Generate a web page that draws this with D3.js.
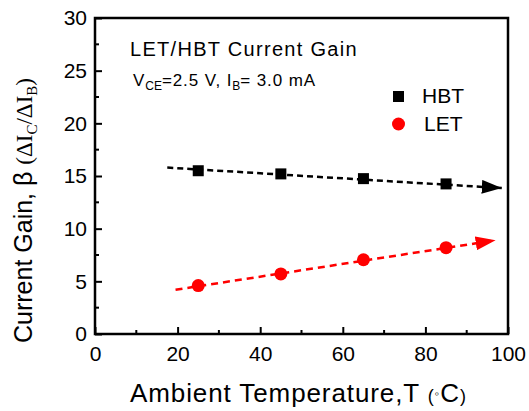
<!DOCTYPE html>
<html>
<head>
<meta charset="utf-8">
<script src="https://cdn.jsdelivr.net/npm/d3@7"></script>
<style>
	body { margin: 0; background: #fff; }
	svg text { font-family: Arial, "Liberation Sans", sans-serif; fill: #000; }
</style>
</head>
<body>
<svg id="chart" width="529" height="411"></svg>
<script>
// temperatures (°C) and measured gains
var temps = [25, 45, 65, 85];
var hbtGain = [15.5, 15.2, 14.75, 14.25];
var letGain = [4.6, 5.7, 7.05, 8.2];

// dashed trend lines with arrows (start / end in data units)
var hbtFitX = [17.5, 98.5];
var hbtFitY = [15.8, 13.85];
var letFitX = [19.5, 97];
var letFitY = [4.2, 8.9];

var xTicks = [0, 20, 40, 60, 80, 100];
var yTicks = [0, 5, 10, 15, 20, 25, 30];

var svg = d3.select('#chart');

var x = d3.scaleLinear().domain([0, 100]).range([95, 508]);
var y = d3.scaleLinear().domain([0, 30]).range([334, 18]);

// arrow heads
var defs = svg.append('defs');
[['arrowBlack', '#000'], ['arrowRed', '#ff0000']].forEach(function(a) {
	defs.append('marker')
		.attr('id', a[0])
		.attr('viewBox', '0 0 20 14')
		.attr('refX', 20)
		.attr('refY', 7)
		.attr('markerWidth', 20)
		.attr('markerHeight', 14)
		.attr('markerUnits', 'userSpaceOnUse')
		.attr('orient', 'auto')
	  .append('path')
		.attr('d', 'M0,0 L20,7 L0,14 Z')
		.attr('fill', a[1]);
});

// axes, ticks inside
var xAxis = d3.axisBottom(x).tickValues(xTicks).tickSize(-7).tickPadding(12).tickFormat(d3.format('d'));
var yAxis = d3.axisLeft(y).tickValues(yTicks).tickSize(-7).tickPadding(8).tickFormat(d3.format('d'));

var gx = svg.append('g').attr('transform', 'translate(0,' + y(0) + ')').call(xAxis);
var gy = svg.append('g').attr('transform', 'translate(' + x(0) + ',0)').call(yAxis);

[gx, gy].forEach(function(g) {
	g.select('.domain').remove();
	g.selectAll('.tick line').attr('stroke', '#000').attr('stroke-width', 2);
	g.selectAll('.tick text').style('font-size', '21px').attr('fill', '#000');
});

// minor ticks
svg.append('g').selectAll('line')
	.data(d3.range(10, 100, 20))
	.enter().append('line')
	.attr('x1', function(d) { return x(d); })
	.attr('x2', function(d) { return x(d); })
	.attr('y1', y(0))
	.attr('y2', y(0) - 4)
	.attr('stroke', '#000').attr('stroke-width', 2);

svg.append('g').selectAll('line')
	.data(d3.range(2.5, 30, 5))
	.enter().append('line')
	.attr('y1', function(d) { return y(d); })
	.attr('y2', function(d) { return y(d); })
	.attr('x1', x(0))
	.attr('x2', x(0) + 4)
	.attr('stroke', '#000').attr('stroke-width', 2);

// frame
svg.append('rect')
	.attr('x', x(0)).attr('y', y(30))
	.attr('width', x(100) - x(0)).attr('height', y(0) - y(30))
	.attr('fill', 'none').attr('stroke', '#000').attr('stroke-width', 2.5);

// trend lines
var line = d3.line().x(function(d) { return x(d[0]); }).y(function(d) { return y(d[1]); });

svg.append('path')
	.attr('d', line(d3.zip(hbtFitX, hbtFitY)))
	.attr('fill', 'none').attr('stroke', '#000').attr('stroke-width', 2.5)
	.attr('stroke-dasharray', '6,4')
	.attr('marker-end', 'url(#arrowBlack)');

svg.append('path')
	.attr('d', line(d3.zip(letFitX, letFitY)))
	.attr('fill', 'none').attr('stroke', '#ff0000').attr('stroke-width', 2.5)
	.attr('stroke-dasharray', '7,5')
	.attr('marker-end', 'url(#arrowRed)');

// markers
svg.append('g').selectAll('rect')
	.data(d3.zip(temps, hbtGain))
	.enter().append('rect')
	.attr('x', function(d) { return x(d[0]) - 5.5; })
	.attr('y', function(d) { return y(d[1]) - 5.5; })
	.attr('width', 11).attr('height', 11)
	.attr('fill', '#000');

svg.append('g').selectAll('circle')
	.data(d3.zip(temps, letGain))
	.enter().append('circle')
	.attr('cx', function(d) { return x(d[0]); })
	.attr('cy', function(d) { return y(d[1]); })
	.attr('r', 6.5)
	.attr('fill', '#ff0000');

// annotation
svg.append('text')
	.attr('x', 130).attr('y', 56)
	.style('font-size', '20px')
	.style('letter-spacing', '1.3px')
	.text('LET/HBT Current Gain');

var sub = svg.append('text').attr('x', 133).attr('y', 86).style('font-size', '17px').style('letter-spacing', '0.9px');
sub.append('tspan').text('V');
sub.append('tspan').attr('dy', 4).style('font-size', '12px').style('letter-spacing', '0').text('CE');
sub.append('tspan').attr('dy', -4).text('=2.5 V, I');
sub.append('tspan').attr('dy', 4).style('font-size', '12px').style('letter-spacing', '0').text('B');
sub.append('tspan').attr('dy', -4).text('= 3.0 mA');

// legend
svg.append('rect').attr('x', 393).attr('y', 91).attr('width', 11).attr('height', 11).attr('fill', '#000');
svg.append('text').attr('x', 422).attr('y', 103).style('font-size', '21px').text('HBT');
svg.append('circle').attr('cx', 398.5).attr('cy', 124).attr('r', 6.5).attr('fill', '#ff0000');
svg.append('text').attr('x', 424).attr('y', 131).style('font-size', '21px').text('LET');

// axis titles
var xt = svg.append('text').attr('x', 130).attr('y', 402).style('font-size', '26px').style('letter-spacing', '0.9px');
xt.append('tspan').text('Ambient Temperature,T ');
xt.append('tspan').style('font-size', '18px').text('(');
xt.append('tspan').style('font-size', '13px').attr('dy', -4).text('\u25E6');
xt.append('tspan').attr('dy', 4).text('C');
xt.append('tspan').style('font-size', '18px').text(')');

var yt = svg.append('text')
	.attr('transform', 'translate(32,343) rotate(-90)')
	.style('font-size', '25px');
yt.append('tspan').text('Current Gain, \u03B2 ');
yt.append('tspan').style('font-family', '"Liberation Serif", "Times New Roman", serif').style('font-size', '23px').text('(\u0394I');
yt.append('tspan').style('font-family', '"Liberation Serif", serif').style('font-size', '15px').attr('dy', 5).text('C');
yt.append('tspan').style('font-family', '"Liberation Serif", serif').style('font-size', '23px').attr('dy', -5).text('/\u0394I');
yt.append('tspan').style('font-family', '"Liberation Serif", serif').style('font-size', '15px').attr('dy', 5).text('B');
yt.append('tspan').style('font-family', '"Liberation Serif", serif').style('font-size', '23px').attr('dy', -5).text(')');
</script>
</body>
</html>
